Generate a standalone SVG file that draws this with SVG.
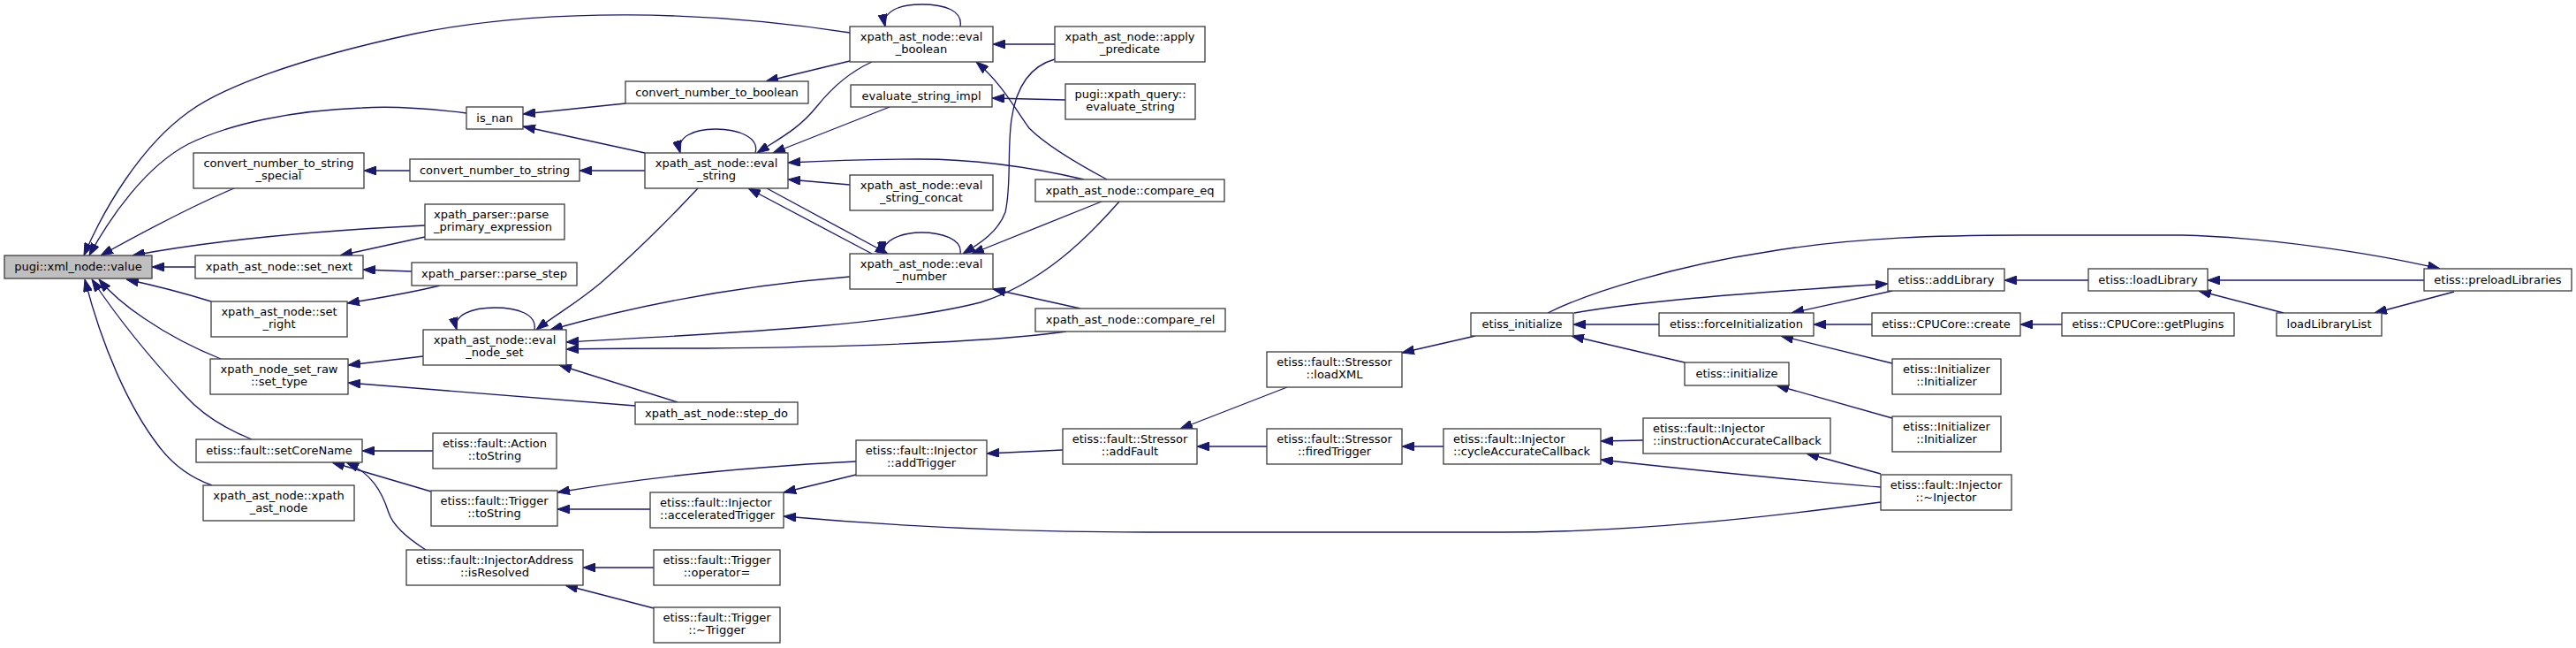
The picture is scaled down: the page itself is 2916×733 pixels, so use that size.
<svg xmlns="http://www.w3.org/2000/svg" width="2916" height="733" viewBox="0 0 2916 733">
<style>
.n rect{fill:#fff;stroke:#404040;stroke-width:1.33}
.n.root rect{fill:#bfbfbf}
.n text{font-family:"DejaVu Sans",sans-serif;font-size:13px;fill:#000;text-anchor:middle}
.n text.l{text-anchor:start}
#edges path{fill:none;stroke:#191970;stroke-width:1.33;marker-end:url(#ah)}
</style>
<defs>
<marker id="ah" viewBox="0 0 14 10" refX="14" refY="5" markerWidth="14" markerHeight="10" markerUnits="userSpaceOnUse" orient="auto">
<path d="M0,0 L14,5 L0,10 z" fill="#191970" stroke="#191970" stroke-width="1"/>
</marker>
</defs>
<rect width="2916" height="733" fill="#fff"/>
<g id="edges">
<path d="M962,37 C800,12 620,8 470,38 C330,68 250,100 213,127 C160,165 118,235 95,289"/>
<path d="M528,128 C480,122 440,120 410,122 C330,125 260,140 213,163 C165,188 125,245 101,289"/>
<path d="M265,213 C220,232 170,258 114,289"/>
<path d="M481,255 C380,260 250,270 150,289"/>
<path d="M221,302 L172,302"/>
<path d="M239,341 C210,332 180,324 143,316"/>
<path d="M250,406 C215,392 185,375 163,360 C145,348 128,335 112,316"/>
<path d="M285,497 C255,485 230,470 210,448 C170,405 130,355 104,316"/>
<path d="M240,549 C215,540 195,525 180,505 C145,460 115,390 96,316"/>
<path d="M481,268 L385,289"/>
<path d="M466,307 L411,305"/>
<path d="M498,323 C470,330 430,337 393,343"/>
<path d="M464,193 L412,193"/>
<path d="M730,173 L592,143"/>
<path d="M708,117 L592,129"/>
<path d="M730,193 L656,193"/>
<path d="M855,173 C860,155 835,146 810,146 C785,146 765,155 770,173"/>
<path d="M962,69 L867,92"/>
<path d="M987,70 C965,80 945,95 925,120 C905,145 885,155 857,173"/>
<path d="M1007,121 L875,173"/>
<path d="M1227,203 C1180,192 1110,180 1040,180 C980,180 930,182 892,184"/>
<path d="M962,209 L892,203"/>
<path d="M868,213 L1005,287"/>
<path d="M987,287 L847,213"/>
<path d="M1087,287 C1090,270 1065,263 1043,263 C1020,263 998,272 1000,287"/>
<path d="M790,213 C760,245 720,285 680,320 C650,345 630,355 607,373"/>
<path d="M962,313 C850,322 740,340 623,373"/>
<path d="M605,373 C608,355 585,348 560,348 C535,348 512,356 517,373"/>
<path d="M1267,228 C1230,270 1180,320 1110,342 C1000,370 800,378 641,387"/>
<path d="M1207,375 C1100,390 900,393 800,394 C740,394 690,394 641,395"/>
<path d="M767,455 L633,413"/>
<path d="M479,403 L394,413"/>
<path d="M719,459 L394,433"/>
<path d="M1087,30 C1090,12 1070,5 1043,5 C1020,5 998,12 1002,30"/>
<path d="M1194,50 L1124,50"/>
<path d="M1253,203 C1210,180 1180,160 1165,145 C1150,125 1135,95 1105,70"/>
<path d="M1194,67 C1165,75 1150,100 1145,135 C1140,170 1145,210 1138,240 C1130,262 1110,275 1090,287"/>
<path d="M1247,228 L1100,287"/>
<path d="M1223,349 L1124,327"/>
<path d="M1206,113 L1123,111"/>
<path d="M490,510 L410,510"/>
<path d="M488,556 L376,523"/>
<path d="M482,622 C460,608 445,595 440,580 C432,555 420,535 392,523"/>
<path d="M969,522 C850,528 730,540 631,557"/>
<path d="M736,576 L631,576"/>
<path d="M969,537 L887,557"/>
<path d="M2129,568 C2000,585 1850,602 1700,602 L1300,602 C1150,602 1000,594 887,584"/>
<path d="M740,642 L660,642"/>
<path d="M740,688 L640,662"/>
<path d="M1203,509 L1117,513"/>
<path d="M1457,438 L1336,485"/>
<path d="M1434,505 L1355,505"/>
<path d="M1670,380 L1587,399"/>
<path d="M1634,505 L1587,505"/>
<path d="M1860,498 L1812,499"/>
<path d="M2129,551 C2050,545 1900,530 1812,520"/>
<path d="M2129,536 L2045,513"/>
<path d="M1878,367 L1781,367"/>
<path d="M1907,410 L1779,380"/>
<path d="M1782,354 C1850,342 1950,333 2137,321"/>
<path d="M2142,329 L2028,354"/>
<path d="M1752,354 C1800,330 1900,300 2000,285 C2100,268 2200,266 2300,266 L2470,266 C2560,268 2680,285 2762,304"/>
<path d="M2364,317 L2269,317"/>
<path d="M2744,317 L2499,317"/>
<path d="M2585,354 L2489,329"/>
<path d="M2778,330 L2688,354"/>
<path d="M2119,367 L2053,367"/>
<path d="M2334,367 L2287,367"/>
<path d="M2142,411 L2016,380"/>
<path d="M2142,473 L2011,436"/>
</g>
<g id="n0" class="n root"><rect x="5" y="289" width="167" height="26"/><text x="88.5" y="306">pugi::xml_node::value</text></g>
<g id="n1" class="n"><rect x="219" y="173" width="193" height="40"/><text x="315.5" y="188.5">convert_number_to_string</text><text x="315.5" y="203">_special</text></g>
<g id="n2" class="n"><rect x="221" y="289" width="190" height="26"/><text x="316" y="306">xpath_ast_node::set_next</text></g>
<g id="n3" class="n"><rect x="239" y="341" width="154" height="40"/><text x="316" y="356.5">xpath_ast_node::set</text><text x="316" y="371">_right</text></g>
<g id="n4" class="n"><rect x="238" y="406" width="156" height="40"/><text x="316" y="421.5">xpath_node_set_raw</text><text x="316" y="436">::set_type</text></g>
<g id="n5" class="n"><rect x="222" y="497" width="188" height="26"/><text x="316" y="514">etiss::fault::setCoreName</text></g>
<g id="n6" class="n"><rect x="230" y="549" width="171" height="40"/><text x="315.5" y="564.5">xpath_ast_node::xpath</text><text x="315.5" y="579">_ast_node</text></g>
<g id="n7" class="n"><rect x="528" y="121" width="64" height="25"/><text x="560" y="137.5">is_nan</text></g>
<g id="n8" class="n"><rect x="464" y="180" width="192" height="25"/><text x="560" y="196.5">convert_number_to_string</text></g>
<g id="n9" class="n"><rect x="481" y="231" width="158" height="40"/><text class="l" x="491" y="246.5">xpath_parser::parse</text><text class="l" x="491" y="261">_primary_expression</text></g>
<g id="n10" class="n"><rect x="466" y="297" width="187" height="26"/><text x="559.5" y="314">xpath_parser::parse_step</text></g>
<g id="n11" class="n"><rect x="479" y="373" width="162" height="40"/><text x="560" y="388.5">xpath_ast_node::eval</text><text x="560" y="403">_node_set</text></g>
<g id="n12" class="n"><rect x="490" y="490" width="140" height="40"/><text x="560" y="505.5">etiss::fault::Action</text><text x="560" y="520">::toString</text></g>
<g id="n13" class="n"><rect x="488" y="555" width="143" height="40"/><text x="559.5" y="570.5">etiss::fault::Trigger</text><text x="559.5" y="585">::toString</text></g>
<g id="n14" class="n"><rect x="460" y="622" width="200" height="40"/><text x="560" y="637.5">etiss::fault::InjectorAddress</text><text x="560" y="652">::isResolved</text></g>
<g id="n15" class="n"><rect x="708" y="92" width="207" height="25"/><text x="811.5" y="108.5">convert_number_to_boolean</text></g>
<g id="n16" class="n"><rect x="730" y="173" width="162" height="40"/><text x="811" y="188.5">xpath_ast_node::eval</text><text x="811" y="203">_string</text></g>
<g id="n17" class="n"><rect x="719" y="455" width="184" height="25"/><text x="811" y="471.5">xpath_ast_node::step_do</text></g>
<g id="n18" class="n"><rect x="736" y="557" width="151" height="40"/><text class="l" x="747" y="572.5">etiss::fault::Injector</text><text class="l" x="747" y="587">::acceleratedTrigger</text></g>
<g id="n19" class="n"><rect x="740" y="622" width="143" height="40"/><text x="811.5" y="637.5">etiss::fault::Trigger</text><text x="811.5" y="652">::operator=</text></g>
<g id="n20" class="n"><rect x="740" y="687" width="143" height="40"/><text x="811.5" y="702.5">etiss::fault::Trigger</text><text x="811.5" y="717">::~Trigger</text></g>
<g id="n21" class="n"><rect x="962" y="30" width="162" height="40"/><text x="1043" y="45.5">xpath_ast_node::eval</text><text x="1043" y="60">_boolean</text></g>
<g id="n22" class="n"><rect x="963" y="96" width="160" height="25"/><text x="1043" y="112.5">evaluate_string_impl</text></g>
<g id="n23" class="n"><rect x="962" y="198" width="162" height="40"/><text x="1043" y="213.5">xpath_ast_node::eval</text><text x="1043" y="228">_string_concat</text></g>
<g id="n24" class="n"><rect x="962" y="287" width="162" height="40"/><text x="1043" y="302.5">xpath_ast_node::eval</text><text x="1043" y="317">_number</text></g>
<g id="n25" class="n"><rect x="969" y="498" width="148" height="40"/><text x="1043" y="513.5">etiss::fault::Injector</text><text x="1043" y="528">::addTrigger</text></g>
<g id="n26" class="n"><rect x="1194" y="30" width="170" height="40"/><text x="1279" y="45.5">xpath_ast_node::apply</text><text x="1279" y="60">_predicate</text></g>
<g id="n27" class="n"><rect x="1206" y="95" width="147" height="40"/><text x="1279.5" y="110.5">pugi::xpath_query::</text><text x="1279.5" y="125">evaluate_string</text></g>
<g id="n28" class="n"><rect x="1172" y="203" width="214" height="25"/><text x="1279" y="219.5">xpath_ast_node::compare_eq</text></g>
<g id="n29" class="n"><rect x="1172" y="349" width="215" height="26"/><text x="1279.5" y="366">xpath_ast_node::compare_rel</text></g>
<g id="n30" class="n"><rect x="1203" y="485" width="152" height="40"/><text x="1279" y="500.5">etiss::fault::Stressor</text><text x="1279" y="515">::addFault</text></g>
<g id="n31" class="n"><rect x="1434" y="398" width="153" height="40"/><text x="1510.5" y="413.5">etiss::fault::Stressor</text><text x="1510.5" y="428">::loadXML</text></g>
<g id="n32" class="n"><rect x="1434" y="485" width="153" height="40"/><text x="1510.5" y="500.5">etiss::fault::Stressor</text><text x="1510.5" y="515">::firedTrigger</text></g>
<g id="n33" class="n"><rect x="1665" y="354" width="116" height="26"/><text x="1723" y="371">etiss_initialize</text></g>
<g id="n34" class="n"><rect x="1634" y="485" width="178" height="40"/><text class="l" x="1645" y="500.5">etiss::fault::Injector</text><text class="l" x="1645" y="515">::cycleAccurateCallback</text></g>
<g id="n35" class="n"><rect x="1878" y="354" width="175" height="26"/><text x="1965.5" y="371">etiss::forceInitialization</text></g>
<g id="n36" class="n"><rect x="1907" y="410" width="118" height="26"/><text x="1966" y="427">etiss::initialize</text></g>
<g id="n37" class="n"><rect x="1860" y="473" width="212" height="40"/><text class="l" x="1871" y="488.5">etiss::fault::Injector</text><text class="l" x="1871" y="503">::instructionAccurateCallback</text></g>
<g id="n38" class="n"><rect x="2137" y="304" width="132" height="25"/><text x="2203" y="320.5">etiss::addLibrary</text></g>
<g id="n39" class="n"><rect x="2119" y="354" width="168" height="26"/><text x="2203" y="371">etiss::CPUCore::create</text></g>
<g id="n40" class="n"><rect x="2142" y="406" width="123" height="40"/><text x="2203.5" y="421.5">etiss::Initializer</text><text x="2203.5" y="436">::Initializer</text></g>
<g id="n41" class="n"><rect x="2142" y="471" width="123" height="40"/><text x="2203.5" y="486.5">etiss::Initializer</text><text x="2203.5" y="501">::Initializer</text></g>
<g id="n42" class="n"><rect x="2129" y="537" width="148" height="40"/><text x="2203" y="552.5">etiss::fault::Injector</text><text x="2203" y="567">::~Injector</text></g>
<g id="n43" class="n"><rect x="2364" y="304" width="135" height="25"/><text x="2431.5" y="320.5">etiss::loadLibrary</text></g>
<g id="n44" class="n"><rect x="2334" y="354" width="195" height="26"/><text x="2431.5" y="371">etiss::CPUCore::getPlugins</text></g>
<g id="n45" class="n"><rect x="2577" y="354" width="119" height="26"/><text x="2636.5" y="371">loadLibraryList</text></g>
<g id="n46" class="n"><rect x="2744" y="304" width="167" height="25"/><text x="2827.5" y="320.5">etiss::preloadLibraries</text></g>
</svg>
